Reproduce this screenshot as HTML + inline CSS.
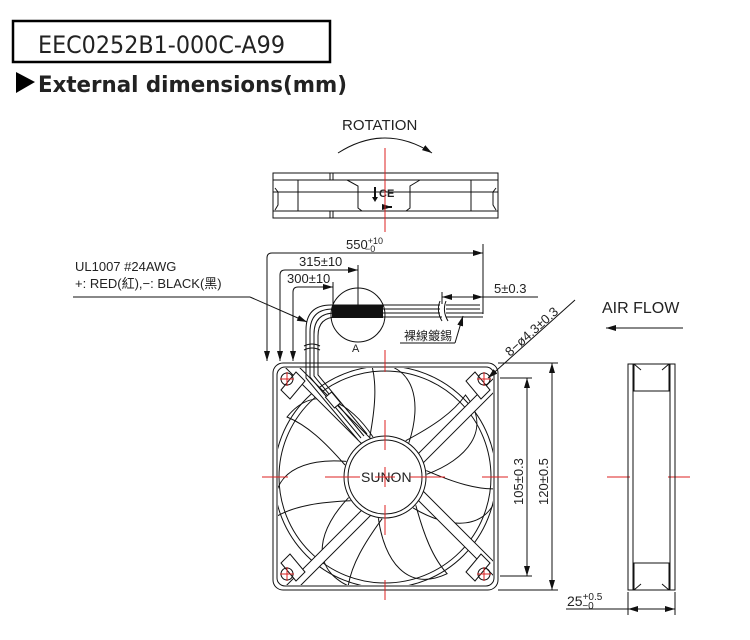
<!DOCTYPE html>
<html><head><meta charset="utf-8"><style>
html,body{margin:0;padding:0;background:#fff;width:750px;height:640px;overflow:hidden}
svg{display:block}
text{font-family:"Liberation Sans","Noto Sans CJK TC",sans-serif;fill:#222}
</style></head><body>
<svg width="750" height="640" viewBox="0 0 750 640" xmlns="http://www.w3.org/2000/svg">
<defs>
<marker id="ar" viewBox="0 0 10 6" refX="10" refY="3" markerWidth="10" markerHeight="6" orient="auto-start-reverse" markerUnits="userSpaceOnUse"><path d="M0,0 L10,3 L0,6 z" fill="#111"/></marker>
<clipPath id="sq"><rect x="278" y="368" width="215" height="217" rx="6"/></clipPath>
</defs>
<rect x="13" y="21" width="317" height="41" fill="none" stroke="#000" stroke-width="2.5"/>
<text x="38" y="53" font-size="24" textLength="247" lengthAdjust="spacingAndGlyphs" style="font-family:'DejaVu Sans','Liberation Sans',sans-serif" fill="#111">EEC0252B1-000C-A99</text>
<path d="M16,72 L35,82 L16,93 z" fill="#000"/>
<text x="38" y="92" font-size="22" font-weight="bold" textLength="309" lengthAdjust="spacingAndGlyphs" style="font-family:'DejaVu Sans','Liberation Sans',sans-serif" fill="#000">External dimensions(mm)</text>

<g stroke="#111" fill="none" stroke-width="1">
<path d="M338,153 Q385,123 432,153" marker-end="url(#ar)"/>
<rect x="273" y="173" width="225" height="45"/>
<line x1="273" y1="180" x2="498" y2="180"/>
<line x1="273" y1="192" x2="498" y2="192"/>
<line x1="273" y1="211" x2="498" y2="211"/>
<line x1="298" y1="180" x2="298" y2="211"/><line x1="471" y1="180" x2="471" y2="211"/>
<line x1="330" y1="173" x2="330" y2="180"/><line x1="333" y1="173" x2="333" y2="180"/>
<line x1="330" y1="211" x2="330" y2="218"/><line x1="333" y1="211" x2="333" y2="218"/>
<path d="M347,180 L358,186 L358,208 L362,211"/><path d="M420,180 L410,186 L410,208 L406,211"/>
<path d="M275,188 L278,192 L278,205 L275,210"/><path d="M496,188 L493,192 L493,205 L496,210"/>
<path d="M375,187 L375,199" stroke-width="2"/>
<path d="M382,207 L392,207" stroke-width="2" marker-end="url(#ar)"/>
</g>
<path d="M372,197 L375,202 L378,197 z" fill="#111"/>
<text x="379" y="197" font-size="11" font-weight="bold">CE</text>
<text x="342" y="130" font-size="15">ROTATION</text>

<g stroke="#111" fill="none" stroke-width="1">
<path d="M267,360 L267,258 Q267,253 272,253 L483,253" marker-end="url(#ar)"/>
<line x1="267" y1="350" x2="267" y2="361" marker-end="url(#ar)"/>
<path d="M280,360 L280,275 Q280,270 285,270 L358,270" marker-end="url(#ar)"/>
<line x1="280" y1="350" x2="280" y2="361" marker-end="url(#ar)"/>
<path d="M293,360 L293,292 Q293,287 298,287 L333,287" marker-end="url(#ar)"/>
<line x1="293" y1="350" x2="293" y2="361" marker-end="url(#ar)"/>
<line x1="483" y1="244" x2="483" y2="314"/>
<line x1="358" y1="265" x2="358" y2="305"/>
<line x1="333" y1="282" x2="333" y2="305"/>
<line x1="442" y1="292" x2="442" y2="304"/>
<line x1="470" y1="297" x2="442" y2="297" marker-end="url(#ar)"/>
<line x1="455" y1="297" x2="483" y2="297" marker-end="url(#ar)"/>
<line x1="483" y1="297" x2="538" y2="297"/>
<circle cx="358" cy="315" r="27"/>
<path d="M306,366 L306,330 Q306,305 331,305 L440,305"/>
<path d="M310,366 L310,332 Q310,309 333,309 L440,309"/>
<path d="M314,366 L314,334 Q314,313 335,313 L440,313"/>
<path d="M318,366 L318,336 Q318,317 337,317 L442,317"/>
<path d="M304,346 Q312,342 320,346 M304,350 Q312,346 320,350"/>
<path d="M446,305 L480,305 M446,309 L480,309 M446,313 L483,313 M446,317 L483,317"/>
<path d="M440,301 Q436,311 442,321 M446,301 Q442,311 448,321"/>
<line x1="73" y1="297" x2="250" y2="297"/>
<line x1="250" y1="297" x2="307" y2="322" marker-end="url(#ar)"/>
<line x1="400" y1="343" x2="455" y2="343"/>
<line x1="455" y1="343" x2="463" y2="316" marker-end="url(#ar)"/>
</g>
<rect x="332" y="305" width="51" height="13" fill="#111"/>
<text x="75" y="271" font-size="13">UL1007  #24AWG</text>
<text x="75" y="288" font-size="13">+: RED(紅),−: BLACK(黑)</text>
<text x="346" y="249" font-size="13">550<tspan font-size="9" dy="-5">+10</tspan><tspan font-size="9" dx="-18" dy="8">−0</tspan></text>
<text x="299" y="266" font-size="13">315±10</text>
<text x="287" y="283" font-size="13">300±10</text>
<text x="494" y="293" font-size="13">5±0.3</text>
<text x="352" y="352" font-size="11">A</text>
<text x="404" y="340" font-size="12">裸線鍍錫</text>

<line x1="488" y1="378" x2="575" y2="300" stroke="#111" marker-start="url(#ar)"/>
<text transform="translate(510,357) rotate(-42)" font-size="13">8−ø4.3±0.3</text>

<g stroke="#111" fill="none" stroke-width="1">
<rect x="273" y="363" width="225" height="227" rx="10"/>
<rect x="277" y="367" width="217" height="219" rx="8"/>
<g clip-path="url(#sq)">
<circle cx="385" cy="477" r="106"/>
<circle cx="385" cy="477" r="111"/>
<g transform="translate(385,477) scale(-1,1)">
<path id="bl" d="M12,-40 C35,-75 70,-95 98,-60 C78,-52 60,-35 40,-12"/>
<use href="#bl" transform="rotate(51.4)"/><use href="#bl" transform="rotate(102.8)"/>
<use href="#bl" transform="rotate(154.2)"/><use href="#bl" transform="rotate(205.6)"/>
<use href="#bl" transform="rotate(257)"/><use href="#bl" transform="rotate(308.4)"/>
</g>
<g transform="translate(385,477) rotate(45)" fill="#fff"><rect x="-170" y="-17" width="340" height="10"/></g>
<g transform="translate(385,477) rotate(135)" fill="#fff"><rect x="-170" y="-17" width="340" height="10"/></g>
</g>
<circle cx="385" cy="477" r="41" fill="#fff"/>
<circle cx="385" cy="477" r="37"/>
<path d="M281,390 L296,372 L305,381 L290,399 z" fill="#fff"/>
<path d="M490,390 L475,372 L466,381 L481,399 z" fill="#fff"/>
<path d="M281,563 L296,581 L305,572 L290,554 z" fill="#fff"/>
<path d="M490,563 L475,581 L466,572 L481,554 z" fill="#fff"/>
<circle cx="287" cy="379" r="6"/><circle cx="484" cy="379" r="6"/>
<circle cx="287" cy="574" r="6"/><circle cx="484" cy="574" r="6"/>
<path d="M306,363 L306,378 L358,440 M310,363 L310,377 L361,438 M314,363 L314,376 L364,436 M318,363 L318,375 L367,434"/>
<rect x="326" y="396" width="14" height="8" transform="rotate(50 333 400)" fill="#fff"/>
</g>
<text x="361" y="482" font-size="14">SUNON</text>
<g stroke="#d22" stroke-width="1">
<line x1="385" y1="148" x2="385" y2="232"/>
<path d="M262,477 L288,477 M325,477 L360,477 M375,477 L395,477 M410,477 L445,477 M482,477 L508,477"/>
<path d="M385,350 L385,372 M385,420 L385,450 M385,467 L385,487 M385,505 L385,535 M385,580 L385,600"/>
<path d="M607,477 L630,477 M668,477 L690,477"/>
<path d="M280,379 L294,379 M287,372 L287,386 M477,379 L491,379 M484,372 L484,386 M280,574 L294,574 M287,567 L287,581 M477,574 L491,574 M484,567 L484,581"/>
</g>
<g stroke="#111" fill="none" stroke-width="1">
<line x1="498" y1="363" x2="558" y2="363"/>
<line x1="498" y1="590" x2="558" y2="590"/>
<line x1="500" y1="378" x2="532" y2="378"/>
<line x1="500" y1="576" x2="532" y2="576"/>
<line x1="552" y1="477" x2="552" y2="363" marker-end="url(#ar)"/>
<line x1="552" y1="477" x2="552" y2="590" marker-end="url(#ar)"/>
<line x1="527" y1="477" x2="527" y2="378" marker-end="url(#ar)"/>
<line x1="527" y1="477" x2="527" y2="576" marker-end="url(#ar)"/>
<rect x="628" y="364" width="47" height="226"/>
<line x1="633" y1="364" x2="633" y2="590"/><line x1="670" y1="364" x2="670" y2="590"/>
<rect x="634" y="364" width="35" height="27"/>
<rect x="634" y="563" width="35" height="27"/>
<path d="M634,364 L641,370 M669,364 L662,370 M634,590 L641,584 M669,590 L662,584"/>
<line x1="628" y1="592" x2="628" y2="615"/><line x1="675" y1="592" x2="675" y2="615"/>
<line x1="566" y1="609" x2="628" y2="609"/>
<line x1="650" y1="609" x2="628" y2="609" marker-end="url(#ar)"/>
<line x1="650" y1="609" x2="675" y2="609" marker-end="url(#ar)"/>
<line x1="683" y1="328" x2="606" y2="328" marker-end="url(#ar)"/>
</g>
<text transform="translate(523,505) rotate(-90)" font-size="13">105±0.3</text>
<text transform="translate(548,505) rotate(-90)" font-size="13">120±0.5</text>
<text x="602" y="313" font-size="16">AIR  FLOW</text>
<text x="567" y="606" font-size="14">25<tspan font-size="10" dy="-6">+0.5</tspan><tspan font-size="10" dx="-20" dy="9">−0</tspan></text>
</svg>
</body></html>
